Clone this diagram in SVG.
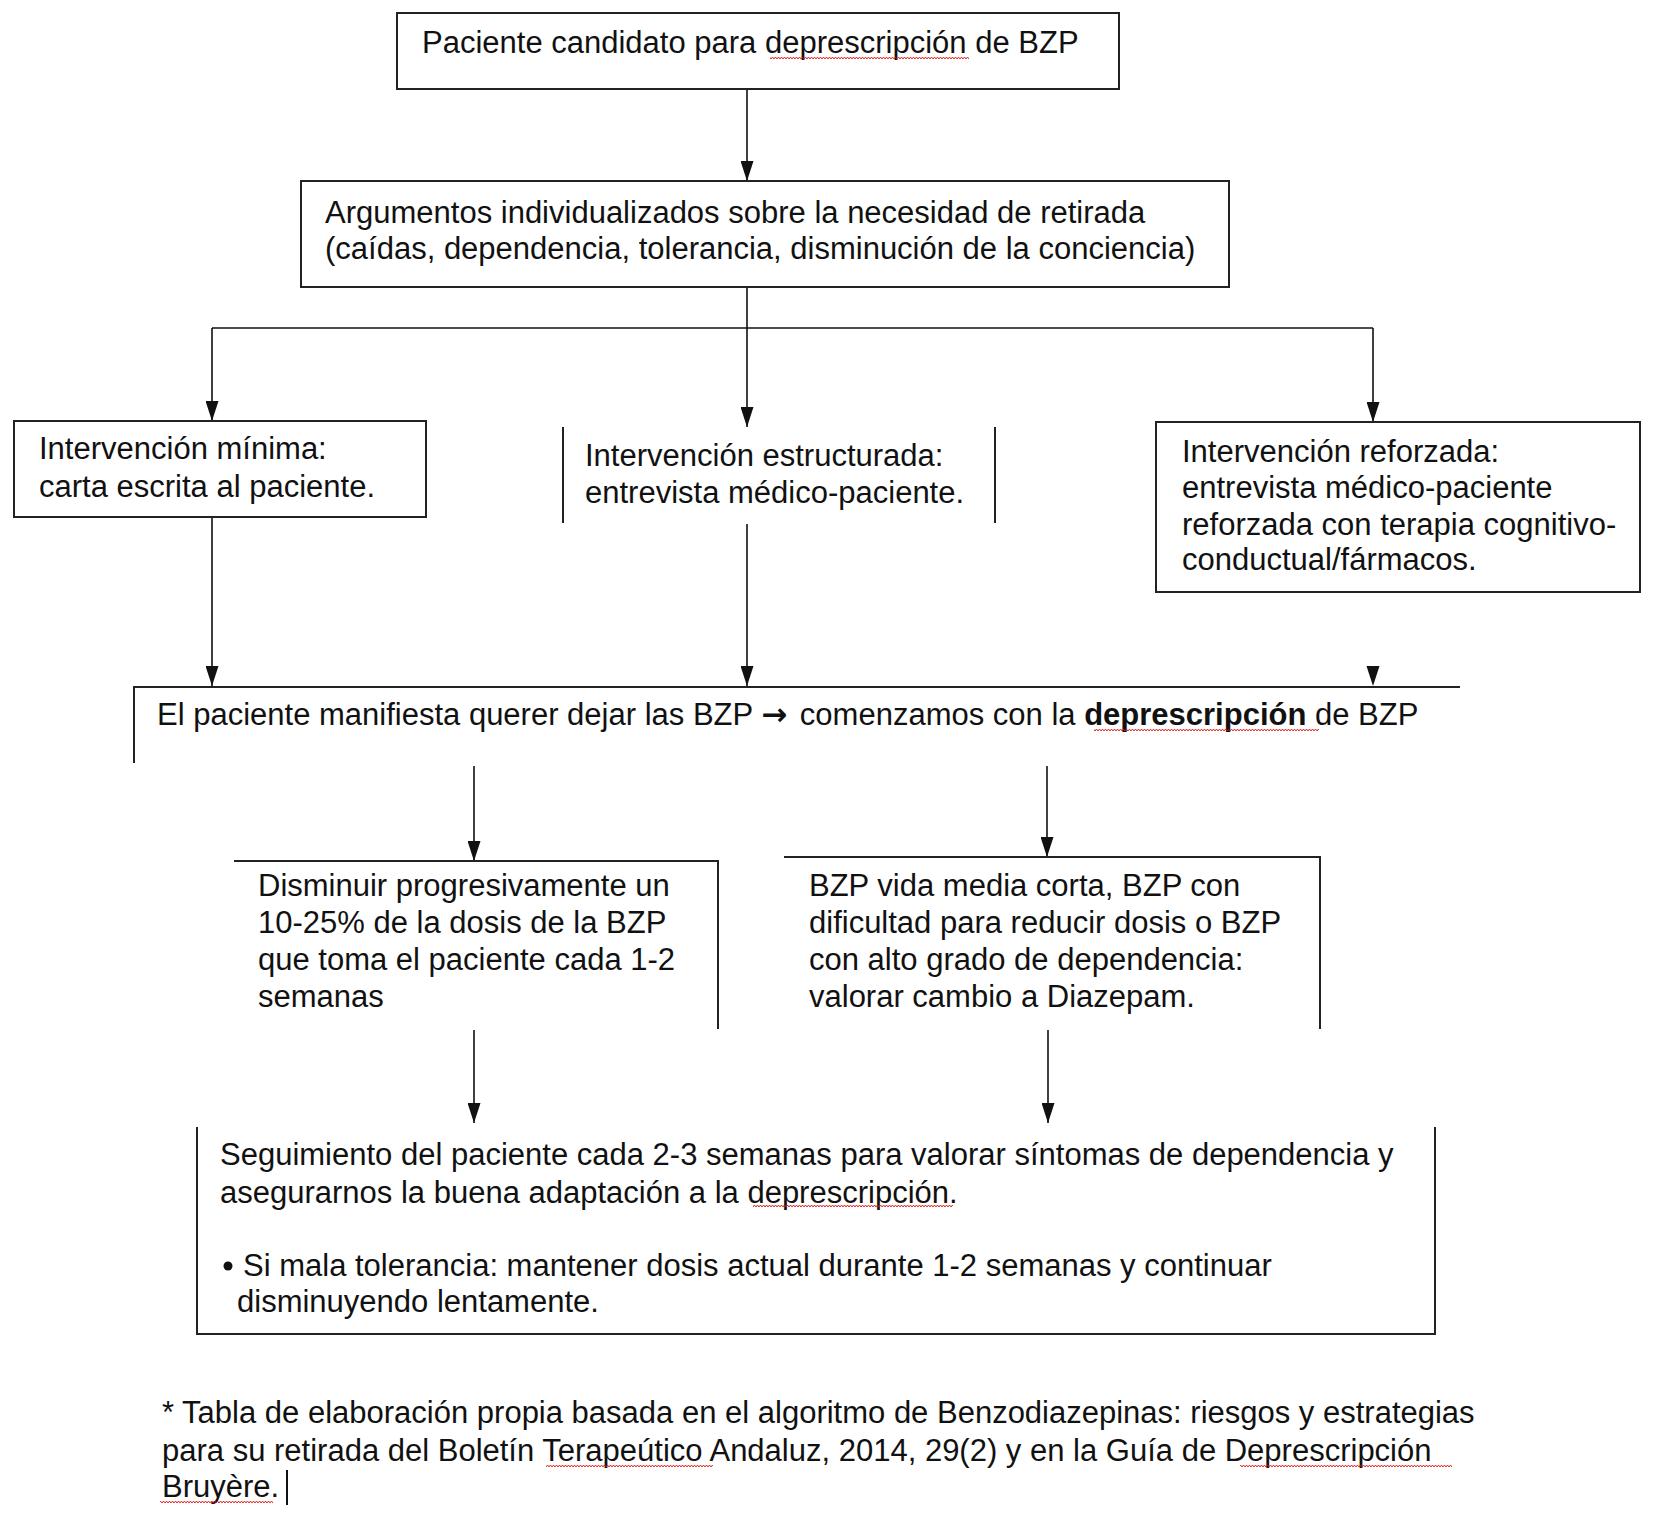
<svg xmlns="http://www.w3.org/2000/svg" width="1660" height="1524" viewBox="0 0 1660 1524">
<style>
text{font-family:"Liberation Sans",Arial,sans-serif;font-size:31px;fill:#111;}
.b{font-weight:bold;}
.arr{font-family:"DejaVu Sans",sans-serif;font-weight:bold;font-size:31px;}
.box{fill:#fff;stroke:#222;stroke-width:2;}
.ln{fill:none;stroke:#222;stroke-width:2;}
.con{fill:none;stroke:#111;stroke-width:1.6;}
.wave{fill:url(#wave);}
</style>
<defs>
<marker id="ah" markerWidth="20" markerHeight="13" refX="20" refY="6.5" orient="auto" markerUnits="userSpaceOnUse" viewBox="0 0 20 13">
<path d="M0 0 L20 6.5 L0 13 Z" fill="#111"/>
</marker>
<pattern id="wave" width="6" height="4" patternUnits="userSpaceOnUse">
<path d="M0 3 L1.5 1 L3 3 L4.5 1 L6 3" fill="none" stroke="#e01010" stroke-width="0.9"/>
</pattern>
</defs>
<rect width="1660" height="1524" fill="#fff"/>

<g id="connectors">
<line class="con" x1="747" y1="89" x2="747" y2="181" marker-end="url(#ah)"/>
<polyline class="con" points="747,287 747,328"/>
<line class="con" x1="212" y1="328" x2="1373" y2="328"/>
<line class="con" x1="212" y1="328" x2="212" y2="421" marker-end="url(#ah)"/>
<line class="con" x1="747" y1="328" x2="747" y2="427" marker-end="url(#ah)"/>
<line class="con" x1="1373" y1="328" x2="1373" y2="422" marker-end="url(#ah)"/>
<line class="con" x1="212" y1="517" x2="212" y2="686" marker-end="url(#ah)"/>
<line class="con" x1="747" y1="524" x2="747" y2="686" marker-end="url(#ah)"/>
<path d="M1366.5 666 L1379.5 666 L1373 686 Z" fill="#111"/>
<line class="con" x1="474" y1="766" x2="474" y2="861" marker-end="url(#ah)"/>
<line class="con" x1="1047" y1="766" x2="1047" y2="857" marker-end="url(#ah)"/>
<line class="con" x1="474" y1="1030" x2="474" y2="1123" marker-end="url(#ah)"/>
<line class="con" x1="1048" y1="1030" x2="1048" y2="1123" marker-end="url(#ah)"/>
</g>

<g id="n1">
<rect class="box" x="397" y="13" width="722" height="76"/>
<text x="422" y="53">Paciente candidato para deprescripción de BZP</text>
<rect class="wave" x="770" y="56" width="199" height="4"/>
</g>

<g id="n2">
<rect class="box" x="301" y="181" width="928" height="106"/>
<text x="325" y="223">Argumentos individualizados sobre la necesidad de retirada</text>
<text x="325" y="259">(caídas, dependencia, tolerancia, disminución de la conciencia)</text>
</g>

<g id="n3">
<rect class="box" x="14" y="421" width="412" height="96"/>
<text x="39" y="459">Intervención mínima:</text>
<text x="39" y="497">carta escrita al paciente.</text>
</g>

<g id="n4">
<line class="ln" x1="563" y1="427" x2="563" y2="523"/>
<line class="ln" x1="995" y1="427" x2="995" y2="523"/>
<text x="585" y="466">Intervención estructurada:</text>
<text x="585" y="503">entrevista médico-paciente.</text>
</g>

<g id="n5">
<rect class="box" x="1156" y="422" width="484" height="170"/>
<text x="1182" y="462">Intervención reforzada:</text>
<text x="1182" y="498">entrevista médico-paciente</text>
<text x="1182" y="535">reforzada con terapia cognitivo-</text>
<text x="1182" y="570">conductual/fármacos.</text>
</g>

<g id="n6">
<polyline class="ln" points="134,763 134,687 1460,687"/>
<text x="157" y="725">El paciente manifiesta querer dejar las BZP <tspan class="arr">→</tspan><tspan dx="4"> comenzamos con la </tspan><tspan class="b">deprescripción</tspan> de BZP</text>
<rect class="wave" x="1094" y="728" width="225" height="4"/>
</g>

<g id="n7">
<polyline class="ln" points="234,861 718,861 718,1029"/>
<text x="258" y="896">Disminuir progresivamente un</text>
<text x="258" y="933">10-25% de la dosis de la BZP</text>
<text x="258" y="970">que toma el paciente cada 1-2</text>
<text x="258" y="1007">semanas</text>
</g>

<g id="n8">
<polyline class="ln" points="784,857 1320,857 1320,1029"/>
<text x="809" y="896">BZP vida media corta, BZP con</text>
<text x="809" y="933">dificultad para reducir dosis o BZP</text>
<text x="809" y="970">con alto grado de dependencia:</text>
<text x="809" y="1007">valorar cambio a Diazepam.</text>
</g>

<g id="n9">
<polyline class="ln" points="197,1127 197,1334 1435,1334 1435,1127"/>
<text x="220" y="1165">Seguimiento del paciente cada 2-3 semanas para valorar síntomas de dependencia y</text>
<text x="220" y="1203">asegurarnos la buena adaptación a la deprescripción.</text>
<rect class="wave" x="753" y="1204" width="200" height="4"/>
<circle cx="228" cy="1266" r="4.5" fill="#111"/>
<text x="243" y="1276">Si mala tolerancia: mantener dosis actual durante 1-2 semanas y continuar</text>
<text x="237" y="1312">disminuyendo lentamente.</text>
</g>

<g id="footnote">
<text x="162" y="1423">* Tabla de elaboración propia basada en el algoritmo de Benzodiazepinas: riesgos y estrategias</text>
<text x="162" y="1461">para su retirada del Boletín Terapeútico Andaluz, 2014, 29(2) y en la Guía de Deprescripción</text>
<text x="162" y="1497">Bruyère.</text>
<rect class="wave" x="546" y="1464" width="167" height="4"/>
<rect class="wave" x="1240" y="1464" width="212" height="4"/>
<rect class="wave" x="160" y="1500" width="113" height="4"/>
<line x1="287" y1="1470" x2="287" y2="1505" stroke="#111" stroke-width="2"/>
</g>
</svg>
